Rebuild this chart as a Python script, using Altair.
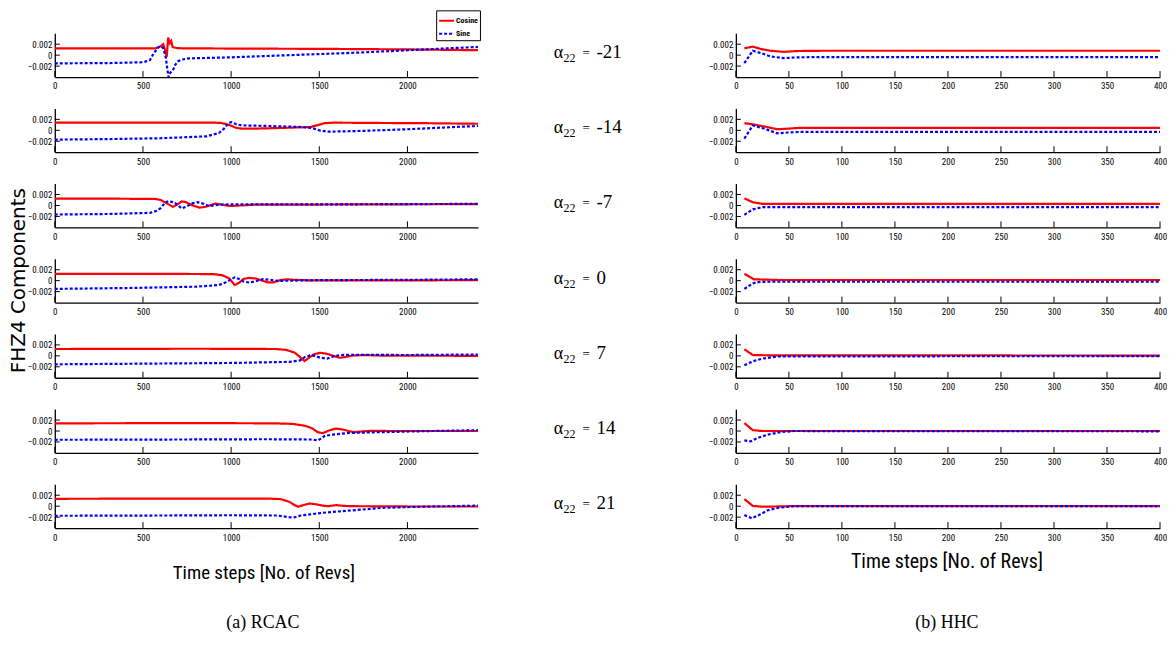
import altair as alt
import pandas as pd

# ---------------- data (y values in units of 1e-3) ----------------
ALPHAS = ["-21", "-14", "-7", "0", "7", "14", "21"]
SERIES = ["Cosine", "Sine"]
RCAC_TICKS = [0, 500, 1000, 1500, 2000]
HHC_TICKS = [0, 50, 100, 150, 200, 250, 300, 350, 400]
Y_TICKS = [-0.002, 0, 0.002]

# RCAC panels (x: time steps 0..2400)
rcac_m21_cos = [(0, 1.25), (500, 1.25), (570, 1.25), (600, 1.6), (615, 2.0), (627, 0.8), (635, -0.3),
                (643, 3.2), (652, 2.2), (660, 2.6), (668, 1.5), (690, 1.3), (720, 1.25), (1000, 1.2),
                (1500, 1.15), (2000, 1.05), (2400, 0.9)]
rcac_m21_sin = [(0, -1.5), (300, -1.45), (500, -1.3), (540, -0.9), (560, 0.3), (590, 1.5), (605, 1.6),
                (616, 1.2), (630, -0.5), (638, -2.5), (645, -4.0), (655, -3.2), (663, -3.0), (672, -2.6),
                (682, -1.8), (700, -1.1), (720, -0.8), (760, -0.6), (1000, -0.4), (1250, -0.1),
                (1500, 0.2), (1750, 0.5), (2000, 0.9), (2200, 1.2), (2400, 1.5)]
rcac_m14_cos = [(0, 1.4), (500, 1.4), (900, 1.4), (940, 1.35), (975, 1.1), (1000, 0.85), (1030, 0.45),
                (1060, 0.3), (1125, 0.3), (1300, 0.45), (1450, 0.6), (1490, 0.95), (1530, 1.3),
                (1580, 1.4), (1800, 1.35), (2100, 1.3), (2400, 1.2)]
rcac_m14_sin = [(0, -1.7), (300, -1.6), (600, -1.45), (860, -1.1), (930, -0.5), (960, 0.3), (985, 1.3),
                (1000, 1.5), (1030, 1.1), (1060, 0.9), (1200, 0.8), (1400, 0.6), (1460, 0.4), (1500, 0.0),
                (1550, -0.25), (1750, -0.1), (2000, 0.2), (2200, 0.5), (2400, 0.8)]
rcac_m7_cos = [(0, 1.25), (300, 1.25), (570, 1.2), (600, 1.0), (630, 0.5), (670, -0.25), (695, 0.2),
               (720, 0.75), (745, 0.6), (775, 0.1), (820, -0.4), (860, -0.2), (910, 0.35), (950, 0.15),
               (995, -0.1), (1050, 0.0), (1130, 0.15), (1300, 0.15), (1700, 0.2), (2400, 0.25)]
rcac_m7_sin = [(0, -1.65), (300, -1.55), (540, -1.35), (575, -1.0), (600, -0.5), (625, 0.5), (645, 0.8),
               (675, 0.6), (700, 0.0), (720, -0.55), (745, -0.2), (780, 0.4), (810, 0.6), (840, 0.35),
               (875, -0.1), (930, 0.15), (1000, 0.2), (1500, 0.2), (2000, 0.25), (2400, 0.3)]
rcac_0_cos = [(0, 1.25), (600, 1.25), (900, 1.2), (950, 1.0), (990, 0.4), (1020, -0.8), (1045, -0.4),
              (1070, 0.3), (1100, 0.5), (1140, 0.4), (1175, 0.0), (1210, -0.3), (1240, -0.3), (1280, 0.1),
              (1315, 0.25), (1360, 0.15), (1450, 0.05), (2000, 0.05), (2400, 0.1)]
rcac_0_sin = [(0, -1.5), (400, -1.35), (800, -1.1), (930, -0.8), (970, -0.3), (995, 0.15), (1020, 0.6),
              (1045, 0.3), (1070, -0.15), (1105, -0.35), (1140, -0.1), (1180, 0.3), (1220, 0.15),
              (1270, -0.05), (1320, 0.0), (1500, 0.1), (2000, 0.15), (2400, 0.25)]
rcac_p7_cos = [(0, 1.25), (800, 1.3), (1250, 1.25), (1310, 1.1), (1360, 0.6), (1390, -0.2), (1416, -0.95),
               (1440, -0.4), (1470, 0.3), (1505, 0.55), (1540, 0.4), (1580, 0.0), (1615, -0.35),
               (1650, -0.2), (1690, 0.05), (1750, 0.15), (1850, 0.05), (2400, 0.0)]
rcac_p7_sin = [(0, -1.55), (600, -1.4), (1000, -1.3), (1330, -1.1), (1390, -0.85), (1420, -0.2),
               (1450, 0.1), (1475, 0.0), (1505, -0.35), (1545, -0.5), (1580, -0.1), (1620, 0.15),
               (1700, 0.2), (2000, 0.15), (2400, 0.25)]
rcac_p14_cos = [(0, 1.4), (800, 1.45), (1250, 1.4), (1350, 1.3), (1420, 0.95), (1460, 0.5), (1490, -0.2),
                (1520, -0.4), (1555, 0.1), (1595, 0.45), (1630, 0.3), (1665, 0.0), (1700, -0.2),
                (1750, -0.05), (1800, 0.05), (1900, 0.0), (2400, 0.0)]
rcac_p14_sin = [(0, -1.6), (700, -1.55), (1200, -1.5), (1450, -1.55), (1495, -1.7), (1530, -0.9),
                (1575, -0.65), (1670, -0.35), (1860, -0.2), (2140, 0.0), (2400, 0.15)]
rcac_p21_cos = [(0, 1.35), (800, 1.4), (1200, 1.4), (1280, 1.3), (1330, 0.8), (1360, 0.2), (1380, -0.1),
                (1405, 0.15), (1445, 0.5), (1480, 0.35), (1520, 0.1), (1550, 0.0), (1595, 0.2),
                (1640, 0.05), (1700, 0.0), (2000, -0.05), (2400, -0.05)]
rcac_p21_sin = [(0, -1.75), (600, -1.7), (1000, -1.65), (1260, -1.7), (1350, -2.1), (1395, -1.7),
                (1520, -1.2), (1690, -0.75), (1860, -0.3), (2070, -0.1), (2400, 0.1)]

# HHC panels (x: time steps 0..400)
hhc_m21_cos = [(8, 1.25), (16, 1.55), (24, 1.1), (33, 0.8), (45, 0.6), (58, 0.75), (80, 0.8), (400, 0.8)]
hhc_m21_sin = [(8, -1.45), (16, 0.8), (24, 0.35), (33, -0.25), (45, -0.55), (58, -0.4), (80, -0.35), (400, -0.35)]
hhc_m14_cos = [(8, 1.3), (16, 1.1), (27, 0.7), (39, 0.2), (49, 0.3), (60, 0.45), (400, 0.45)]
hhc_m14_sin = [(8, -1.5), (16, 0.9), (27, 0.3), (39, -0.55), (49, -0.4), (60, -0.3), (400, -0.3)]
hhc_m7_cos = [(8, 1.3), (16, 0.6), (25, 0.3), (40, 0.3), (400, 0.3)]
hhc_m7_sin = [(8, -1.7), (16, -0.7), (25, -0.3), (40, -0.3), (400, -0.3)]
hhc_0_cos = [(8, 1.25), (17, 0.25), (27, 0.2), (40, 0.12), (400, 0.12)]
hhc_0_sin = [(8, -1.5), (16, -0.5), (20, -0.25), (30, -0.2), (400, -0.2)]
hhc_p7_cos = [(8, 1.2), (16, 0.15), (30, 0.1), (400, 0.05)]
hhc_p7_sin = [(8, -1.7), (16, -1.0), (25, -0.5), (40, -0.1), (400, -0.05)]
hhc_p14_cos = [(8, 1.45), (16, 0.15), (25, 0.0), (400, 0.0)]
hhc_p14_sin = [(8, -1.7), (14, -1.9), (20, -1.3), (30, -0.65), (42, -0.2), (55, 0.0), (400, -0.05)]
hhc_p21_cos = [(8, 1.3), (16, 0.05), (25, -0.1), (50, 0.0), (400, 0.0)]
hhc_p21_sin = [(8, -1.6), (15, -2.2), (21, -1.7), (30, -0.75), (40, -0.3), (55, 0.0), (400, 0.0)]

RCAC = [(rcac_m21_cos, rcac_m21_sin), (rcac_m14_cos, rcac_m14_sin), (rcac_m7_cos, rcac_m7_sin),
        (rcac_0_cos, rcac_0_sin), (rcac_p7_cos, rcac_p7_sin), (rcac_p14_cos, rcac_p14_sin),
        (rcac_p21_cos, rcac_p21_sin)]
HHC = [(hhc_m21_cos, hhc_m21_sin), (hhc_m14_cos, hhc_m14_sin), (hhc_m7_cos, hhc_m7_sin),
       (hhc_0_cos, hhc_0_sin), (hhc_p7_cos, hhc_p7_sin), (hhc_p14_cos, hhc_p14_sin),
       (hhc_p21_cos, hhc_p21_sin)]

# ---------------- style ----------------
W_L, W_R, H = 425, 426, 44
RED, BLUE = "#ff0000", "#0000ff"
NARROW = "Liberation Sans Narrow, Arial Narrow, Roboto Condensed, Liberation Sans, sans-serif"
SERIF = "Liberation Serif, Times New Roman, serif"

LEG = alt.Legend(orient="none", legendX=383, legendY=-23, symbolType="stroke", symbolSize=225,
                 symbolStrokeWidth=2, labelFont=NARROW, labelFontSize=8, labelFontWeight="bold",
                 labelColor="black", padding=2, rowPadding=0, strokeColor="black", fillColor="white",
                 labelOffset=1)
COLOR = alt.Color("s:N", scale=alt.Scale(domain=SERIES, range=[RED, BLUE]), legend=LEG, title=None)
DASH = alt.StrokeDash("s:N", scale=alt.Scale(domain=SERIES, range=[[1, 0], [3, 2]]), legend=LEG, title=None)


def series_df(cos, sin):
    rows = [{"t": x, "v": y * 1e-3, "s": "Cosine"} for x, y in cos]
    rows += [{"t": x, "v": y * 1e-3, "s": "Sine"} for x, y in sin]
    return pd.DataFrame(rows)


def y_enc():
    return alt.Y("v:Q", scale=alt.Scale(domain=[-0.004, 0.004], nice=False, zero=False),
                 axis=alt.Axis(values=Y_TICKS, tickSize=0, labelPadding=3, grid=False, title=None,
                               domainColor="black", domainWidth=1.3, labelFont=NARROW, labelFontSize=9,
                               labelColor="black",
                               labelExpr="datum.value == 0 ? '0' : format(datum.value, '.3f')"))


def x_enc(xmax, ticks):
    return alt.X("t:Q", scale=alt.Scale(domain=[0, xmax], nice=False, zero=False),
                 axis=alt.Axis(values=ticks, tickSize=0, labelPadding=5, grid=False, title=None,
                               domainColor="black", domainWidth=1.3, labelFont=NARROW, labelFontSize=9,
                               labelColor="black", labelFlush=False, format="d"))


def panel(cos, sin, xmax, ticks, width, extra=None):
    X = x_enc(xmax, ticks)
    Y = y_enc()
    lines = alt.Chart(series_df(cos, sin)).mark_line(strokeWidth=2.2, clip=True).encode(
        x=X, y=Y, color=COLOR, strokeDash=DASH, order="t:Q")
    xt = alt.Chart(pd.DataFrame({"t": ticks})).mark_rule(color="black", strokeWidth=1).encode(
        x=X, y=alt.value(H), y2=alt.value(H - 6))
    yt = alt.Chart(pd.DataFrame({"v": Y_TICKS})).mark_rule(color="black", strokeWidth=1).encode(
        y=Y, x=alt.value(0), x2=alt.value(5))
    layers = [lines, xt, yt] + (extra or [])
    return alt.layer(*layers).properties(width=width, height=H)


def text_layer(text, x, y, size, font, **kw):
    return alt.Chart(pd.DataFrame({"label": [text]})).mark_text(
        font=font, fontSize=size, color="black", align=kw.pop("align", "left"),
        baseline=kw.pop("baseline", "alphabetic"), **kw).encode(
        text="label:N", x=alt.value(x), y=alt.value(y))


panels = []
for i, a in enumerate(ALPHAS):
    extra = [
        text_layer("\u03b1", 501, 25, 18, SERIF),
        text_layer("22", 511, 29, 12, SERIF),
        text_layer("=", 530, 24, 13, SERIF),
        text_layer(a, 544, 25, 19, SERIF),
    ]
    if i == 3:
        extra.append(text_layer("FHZ4 Components", -36, 22, 20, "DejaVu Sans", angle=270,
                                align="center", baseline="middle"))
    extra_r = []
    if i == len(ALPHAS) - 1:
        extra.append(text_layer("Time steps [No. of Revs]", 210, 89, 19, NARROW, align="center",
                                baseline="middle"))
        extra.append(text_layer("(a) RCAC", 209, 139, 18, SERIF, align="center", baseline="middle"))
        extra_r.append(text_layer("Time steps [No. of Revs]", 212, 78, 20, NARROW, align="center",
                                  baseline="middle"))
        extra_r.append(text_layer("(b) HHC", 212, 139, 18, SERIF, align="center", baseline="middle"))
    panels.append(panel(RCAC[i][0], RCAC[i][1], 2400, RCAC_TICKS, W_L, extra))
    panels.append(panel(HHC[i][0], HHC[i][1], 400, HHC_TICKS, W_R, extra_r))

chart = alt.concat(*panels, columns=2, spacing={"row": 31.5, "column": 259}, bounds="flush").resolve_scale(
    x="independent"
).properties(
    padding=0, background="white"
).configure_view(stroke=None)

chart.save("out.html", embed_options={"renderer": "svg", "actions": False})
